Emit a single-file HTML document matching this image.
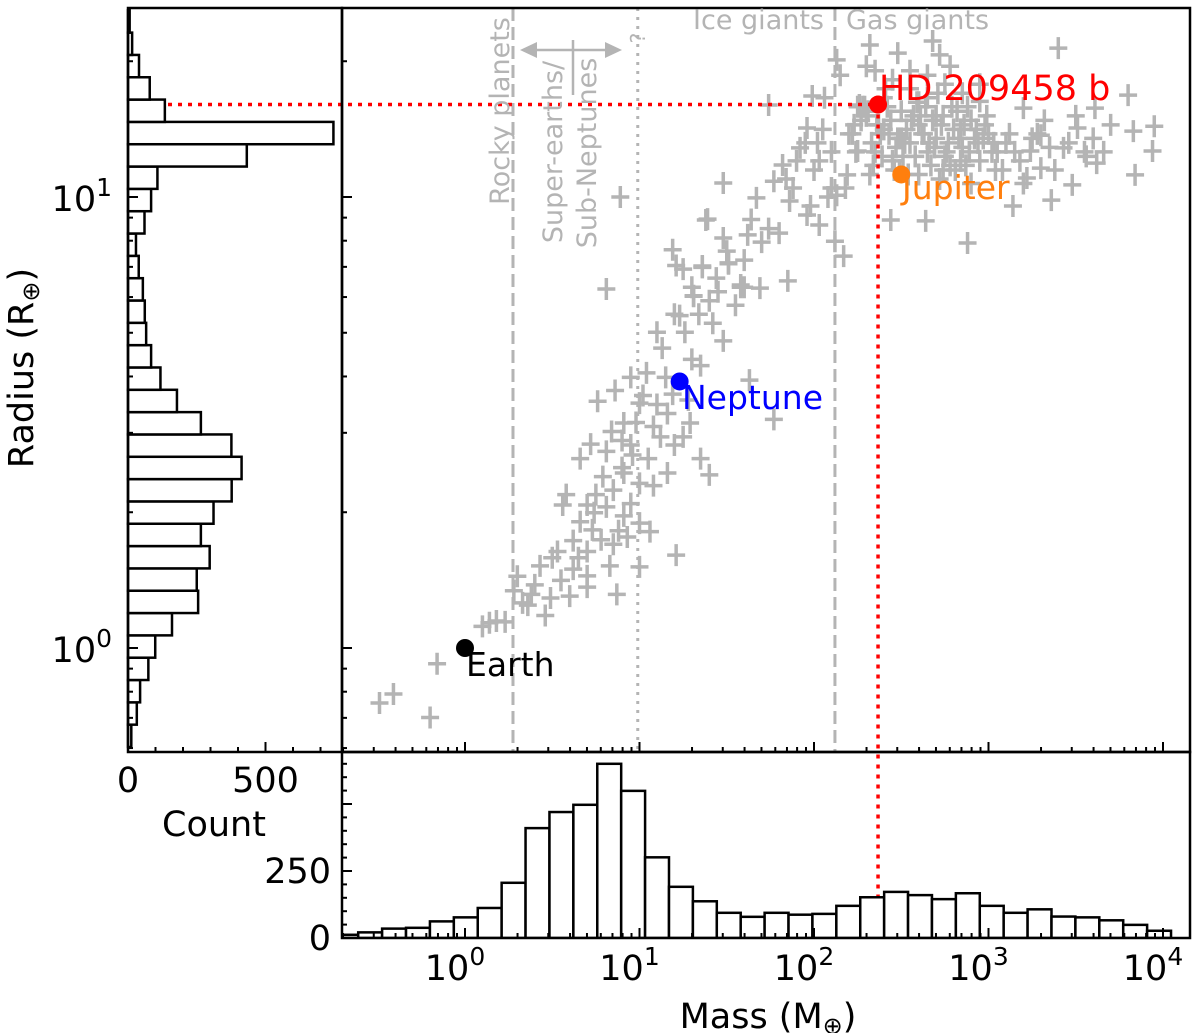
<!DOCTYPE html>
<html><head><meta charset="utf-8"><style>
body{margin:0;background:#fff}
svg{display:block;font-family:"DejaVu Sans","Liberation Sans",sans-serif}
</style></head><body>
<svg id="chart" width="1200" height="1033" viewBox="0 0 1200 1033" xmlns="http://www.w3.org/2000/svg">
<defs><clipPath id="mainclip"><rect x="342" y="8" width="848" height="744"/></clipPath>
<clipPath id="botclip"><rect x="342" y="752" width="848" height="186"/></clipPath></defs>
<rect x="0" y="0" width="1200" height="1033" fill="#fff"/>
<g id="scatter" clip-path="url(#mainclip)"></g>
<g id="guides"></g>
<g id="lhist"></g>
<g id="bhist" clip-path="url(#botclip)"></g>
<g id="ticks"></g>
<g id="frames"></g>
<g id="marks"></g>
<g id="labels"></g>
</svg>
<script>
// ---- data (log10 mass [M_earth], log10 radius [R_earth]) ----
const planetLogMass = [-0.49,-0.41,-0.2,-0.16,0.1,0.14,0.18,0.23,0.28,0.3,0.36,0.38,0.46,0.49,0.6,0.43,0.53,0.62,0.7,0.83,0.7,0.62,0.85,0.93,0.73,0.56,0.7,0.81,0.91,1.0,1.06,0.79,0.91,1.0,1.16,0.72,0.81,0.96,1.12,1.25,1.35,1.4,0.91,1.08,1.29,0.76,0.86,1.0,1.19,1.63,1.77,1.04,1.35,1.13,1.48,1.23,1.31,0.81,1.19,1.21,1.36,1.51,1.39,1.58,0.87,1.21,0.75,0.85,0.95,0.88,0.66,0.78,0.95,1.05,0.9,1.2,1.1,0.98,1.15,1.3,0.7,0.55,0.65,1.42,1.1,1.0,0.89,
1.25,1.3,1.45,1.55,1.6,1.4,1.36,1.51,1.31,1.48,1.38,1.48,1.62,1.74,1.58,1.69,1.85,2.12,2.17,2.44,2.64,2.88,1.99,2.13,2.3,2.32,2.48,2.72,2.78,2.68,1.96,1.92,2.03,1.82,1.77,1.67,1.86,1.96,2.03,2.13,2.19,2.25,2.23,2.26,1.95,2.0,2.05,2.1,1.9,2.1,
2.3,2.4,2.5,2.6,2.7,2.8,2.9,3.0,2.35,2.45,2.55,2.65,2.75,2.85,2.95,3.05,2.32,2.6,2.72,2.9,2.4,2.55,2.65,2.85,2.95,2.5,2.7,2.82,2.42,3.1,2.95,3.2,3.3,3.24,3.43,3.3,3.22,3.14,3.36,3.48,3.62,3.51,3.61,3.4,3.8,3.95,3.94,3.84,3.83,3.15,3.25,3.35,3.55,3.6,3.5,3.7,2.2,2.15,2.25,2.35,2.45,2.55,2.65,2.75,2.6,2.38,2.48,2.58,2.68,2.78,2.88,2.98,3.08,2.36,2.52,2.62,2.74,2.84,2.92,3.02,3.12,2.28,2.46,2.56,2.66,2.76,2.86,
2.22,2.27,2.33,2.37,2.43,2.47,2.53,2.57,2.63,2.67,2.73,2.77,2.83,2.87,2.93,2.97,3.03,2.24,2.34,2.44,2.54,2.64,2.74,2.84,2.94,3.04,2.29,2.39,2.49,2.59,2.69,2.79,2.89,2.99,2.31,2.41,2.51,2.61,2.71,2.81,1.88,1.98,2.08,2.18,1.8,1.7,1.6,1.5,1.44,1.34,1.2,1.26,1.64,1.74,1.84,2.02,2.06,3.18,3.28,3.38,3.46,3.56,3.66,3.2,3.32,0.95,1.02,0.84,0.66,0.58,0.74,0.9,1.08,1.16,1.28,0.5,0.4,0.33];
const planetLogRadius = [-0.122,-0.102,-0.154,-0.035,0.048,0.056,0.06,0.058,0.127,0.159,0.095,0.119,0.072,0.111,0.115,0.182,0.214,0.175,0.135,0.182,0.214,0.238,0.23,0.246,0.262,0.317,0.317,0.313,0.293,0.277,0.258,0.38,0.388,0.365,0.388,0.452,0.436,0.428,0.468,0.468,0.42,0.384,0.499,0.491,0.499,0.547,0.571,0.543,0.563,0.594,0.507,0.61,0.626,0.665,0.681,0.737,0.78,0.796,0.883,0.848,0.844,0.852,0.951,0.80,0.119,0.206,0.34,0.35,0.32,0.26,0.28,0.24,0.45,0.42,0.46,0.45,0.54,0.5,0.6,0.64,0.16,0.15,0.2,0.72,0.7,0.18,1.0,
0.84,0.8,0.79,0.76,0.8,0.77,0.847,0.854,0.781,1.031,0.949,0.909,0.916,1.204,0.805,0.798,0.814,0.902,0.869,0.949,0.947,0.898,1.224,1.304,1.29,1.337,1.319,1.315,1.29,1.346,1.153,1.109,1.08,1.071,1.035,0.998,0.991,0.96,0.938,1.004,1.049,1.102,1.16,1.204,1.12,1.06,1.15,1.1,1.08,1.02,
1.18,1.15,1.19,1.16,1.18,1.15,1.17,1.14,1.1,1.08,1.12,1.1,1.09,1.11,1.08,1.1,1.05,1.05,1.04,1.03,1.22,1.24,1.22,1.23,1.25,1.13,1.13,1.19,1.2,1.12,1.212,1.197,1.137,1.102,1.109,1.064,1.042,0.98,0.993,1.027,1.075,1.153,1.197,1.33,1.226,1.157,1.102,1.049,1.146,1.1,1.13,1.11,1.1,1.13,1.18,1.16,1.14,1.27,1.2,1.28,1.26,1.28,1.27,1.25,1.21,1.14,1.13,1.09,1.17,1.07,1.2,1.16,1.06,1.16,1.12,1.14,1.18,1.08,1.13,1.1,1.14,1.2,1.06,1.17,1.12,1.1,1.16,
1.14,1.17,1.12,1.16,1.14,1.11,1.15,1.18,1.14,1.07,1.16,1.12,1.13,1.07,1.15,1.13,1.12,1.1,1.07,1.17,1.05,1.2,1.06,1.15,1.12,1.06,1.2,1.09,1.06,1.21,1.11,1.2,1.1,1.18,1.19,1.24,1.09,1.18,1.23,1.06,1.02,0.98,1.0,1.02,0.92,0.9,0.86,0.88,0.82,0.74,0.74,0.7,0.95,0.93,1.04,1.12,1.22,1.08,1.14,1.06,1.12,1.09,1.1,1.03,1.17,0.6,0.56,0.48,0.42,0.34,0.3,0.4,0.36,0.52,0.55,0.2,0.14,0.1];
// radius histogram (bins from bottom to top)
const radiusBinStart = -0.2195, radiusBinWidth = 0.0495;
const radiusCounts = [12,32,44,74,99,160,255,250,297,265,311,377,413,376,265,178,118,84,66,61,54,39,29,60,84,107,432,747,134,79,40,15,6];
// mass histogram
const massBinStart = -0.749, massBinWidth = 0.137;
const massCounts = [12,21,35,38,62,77,112,206,410,470,497,650,549,301,191,137,94,79,94,87,90,120,152,172,160,145,167,120,94,107,80,77,66,49,27];
// highlighted planets
const hlNames = ["Earth","Neptune","Jupiter","HD 209458 b"];
const hlLogMass = [0,1.23,2.50,2.367];
const hlLogRadius = [0,0.591,1.05,1.205];
const hlColors = ["#000000","#0000ff","#ff7f0e","#ff0000"];
// class boundaries (mass, M_earth)
const boundaryLogMass = [0.275,0.99,2.12];
const xTickExps = [0,1,2,3,4];
const yTickExps = [0,1];
const countTicks = [0,500];
const massCountTicks = [0,250];

// ---- scales ----
const X = lm => 465 + lm*174.5;
const Y = lr => 648 - lr*451;
const HX = c => 128 + c*0.275;
const HY = c => 938 - c*0.268;
const NS = "http://www.w3.org/2000/svg";
function mk(tag, attrs, parent){const e=document.createElementNS(NS,tag);for(const k in attrs)e.setAttribute(k,attrs[k]);parent.appendChild(e);return e;}
const G = id => document.getElementById(id);
const gray="#b4b4b4";

// scatter
const sc=G('scatter');
for(let i=0;i<planetLogMass.length;i++){
  const x=X(planetLogMass[i]), y=Y(planetLogRadius[i]);
  const p=mk('path',{d:`M${x-9} ${y}H${x+9}M${x} ${y-11}V${y+11}`,stroke:gray,'stroke-width':3.5,fill:'none'},sc);
  
  
}
// guides
const gd=G('guides');
boundaryLogMass.forEach((lm,i)=>{
  const l=mk('line',{x1:X(lm),x2:X(lm),y1:8,y2:752,stroke:gray,'stroke-width':3,'stroke-dasharray':i==1?'3,6':'13,6'},gd);
  
  
});
const hd=3;
const rh=mk('line',{x1:128,x2:X(hlLogMass[hd]),y1:Y(hlLogRadius[hd]),y2:Y(hlLogRadius[hd]),stroke:'#ff0000','stroke-width':3.5,'stroke-dasharray':'4,6'},gd);


const rv=mk('line',{x1:X(hlLogMass[hd]),x2:X(hlLogMass[hd]),y1:Y(hlLogRadius[hd]),y2:938,stroke:'#ff0000','stroke-width':3.5,'stroke-dasharray':'4,6'},gd);


const ar=mk('path',{d:'M530 50H612M573 40V95',stroke:gray,'stroke-width':2.5,fill:'none'},gd);


mk('path',{d:'M520 50L537 42L537 58Z M622 50L605 42L605 58Z',fill:gray},gd);

// left histogram
const lh=G('lhist');
radiusCounts.forEach((c,i)=>{
  const y0=Y(radiusBinStart+i*radiusBinWidth), y1=Y(radiusBinStart+(i+1)*radiusBinWidth);
  const r=mk('rect',{x:HX(0),y:y1,width:HX(c)-HX(0),height:y0-y1,fill:'#fff',stroke:'#000','stroke-width':2.5},lh);
  
  
});
// bottom histogram
const bh=G('bhist');
massCounts.forEach((c,i)=>{
  const x0=X(massBinStart+i*massBinWidth), x1=X(massBinStart+(i+1)*massBinWidth);
  const r=mk('rect',{x:x0,y:HY(c),width:x1-x0,height:HY(0)-HY(c),fill:'#fff',stroke:'#000','stroke-width':2.5},bh);
  
  
});

// ticks
const tk=G('ticks');
function tl(x1,y1,x2,y2){mk('line',{x1,y1,x2,y2,stroke:'#000','stroke-width':2},tk);}
for(let d=-1;d<=4;d++){for(let k=1;k<10;k++){
  const lm=d+Math.log10(k); const x=X(lm); if(x<343||x>1189)continue;
  const L=k==1?10:5; tl(x,752,x,752-L); tl(x,938,x,938-L);
}}
for(let d=-1;d<=1;d++){for(let k=1;k<10;k++){
  const lr=d+Math.log10(k); const y=Y(lr); if(y<9||y>751)continue;
  const L=k==1?10:5; tl(342,y,342+L,y); tl(128,y,128+L,y);
}}
for(let c=0;c<=700;c+=100){const L=c%500==0?10:5; tl(HX(c),752,HX(c),752-L);}
for(let c=0;c<=650;c+=50){const L=c%250==0?10:5; tl(342,HY(c),342+L,HY(c));}

// frames
const fr=G('frames');
[[128,8,214,744,'radius-hist-frame'],[342,8,848,744,'scatter-frame'],[342,752,848,186,'mass-hist-frame']].forEach(f=>{
  const r=mk('rect',{x:f[0],y:f[1],width:f[2],height:f[3],fill:'none',stroke:'#000','stroke-width':2.5},fr);
  
  
});

// highlighted planets
const mkG=G('marks');
const lblPos=[[466,676,33],[682,409,33],[902,199,33],[879,100,35]];
hlNames.forEach((n,i)=>{
  const c=mk('circle',{cx:X(hlLogMass[i]),cy:Y(hlLogRadius[i]),r:9,fill:hlColors[i]},mkG);
  
  
  const t=mk('text',{x:lblPos[i][0],y:lblPos[i][1],'font-size':lblPos[i][2],fill:hlColors[i]},mkG);
  t.textContent=n;
  
  
});

// tick labels
const lb=G('labels');
xTickExps.forEach(e=>{
  const t=mk('text',{x:X(e)-10,y:980,'font-size':35,'text-anchor':'middle'},lb);
  t.innerHTML='10<tspan dy="-15" font-size="25">'+e+'</tspan>';
  
  
});
yTickExps.forEach(e=>{
  const t=mk('text',{x:112,y:Y(e)+14,'font-size':35,'text-anchor':'end'},lb);
  t.innerHTML='10<tspan dy="-15" font-size="25">'+e+'</tspan>';
  
  
});
countTicks.forEach(c=>{
  const t=mk('text',{x:HX(c),y:792,'font-size':35,'text-anchor':'middle'},lb);
  t.textContent=String(c);
  
  
});
massCountTicks.forEach(c=>{
  const t=mk('text',{x:331,y:HY(c)+12,'font-size':35,'text-anchor':'end'},lb);
  t.textContent=String(c);
  
  
});
lb.insertAdjacentHTML('beforeend',`
<text x="214" y="836" font-size="35" text-anchor="middle">Count</text>
<text x="768" y="1028" font-size="35" text-anchor="middle">Mass (M<tspan font-size="24" dy="6">⊕</tspan><tspan dy="-6">)</tspan></text>
<text transform="translate(33,368) rotate(-90)" font-size="35" text-anchor="middle">Radius (R<tspan font-size="24" dy="6">⊕</tspan><tspan dy="-6">)</tspan></text>
<text transform="translate(509,111) rotate(-90)" font-size="27" fill="#b4b4b4" text-anchor="middle">Rocky planets</text>
<text transform="translate(562,152) rotate(-90)" font-size="27" fill="#b4b4b4" text-anchor="middle">Super-earths/</text>
<text transform="translate(596,153) rotate(-90)" font-size="27" fill="#b4b4b4" text-anchor="middle">Sub-Neptunes</text>
<text transform="translate(645,38) rotate(-90)" font-size="20" fill="#b4b4b4" text-anchor="middle">?</text>
<text x="824" y="29" font-size="27" fill="#b4b4b4" text-anchor="end">Ice giants</text>
<text x="846" y="29" font-size="27" fill="#b4b4b4">Gas giants</text>
`);
</script>
</body></html>
